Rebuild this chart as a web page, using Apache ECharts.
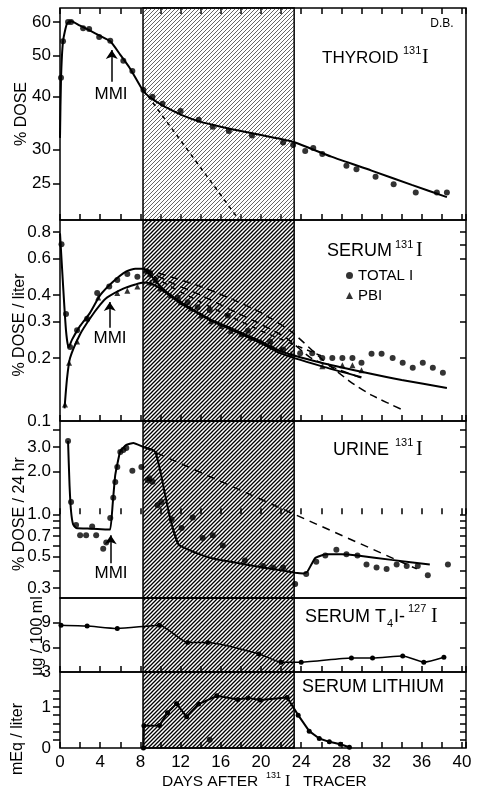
<!DOCTYPE html>
<html>
<head>
<meta charset="utf-8">
<script src="https://cdn.jsdelivr.net/npm/echarts@6/dist/echarts.min.js"></script>
<style>html,body{margin:0;background:#fff}#chart{width:478px;height:789px}</style>
</head>
<body>
<div id="chart"></div>
<script>
// ---- data (days after 131I tracer) ----
const thyroidDays = [0.1, 0.3, 0.8, 1.1, 2.3, 2.9, 3.9, 5.0, 6.3, 7.2, 8.3, 9.2, 10.2, 12.0, 13.8, 15.2, 16.8, 19.1, 22.2, 23.2, 24.4, 25.2, 26.1, 28.5, 29.5, 31.4, 33.2, 35.4, 37.5, 38.5];
const thyroidDose = [44.3, 54, 60, 60, 58, 57.7, 55.3, 54.2, 48.6, 46, 41.5, 40, 38.5, 37, 35.3, 34, 33.2, 32.4, 31.2, 30.8, 29.8, 30.3, 29.3, 27.5, 27, 25.9, 24.9, 23.8, 23.8, 23.8];
const thyroidFitDays = [0, 0.1, 0.3, 0.7, 1.1, 2, 3, 4, 5, 6, 7, 8.3, 9, 10, 10.6, 12, 14, 16, 18, 20, 22, 23.4, 27, 31, 35, 38.5];
const thyroidFitDose = [32, 44, 54, 59.5, 60.2, 58.8, 57.2, 55.6, 54, 50.2, 46.5, 41.2, 39.8, 38.4, 37.7, 36.3, 34.9, 34, 33.2, 32.5, 31.8, 31.2, 28.9, 26.8, 24.8, 23.2];
const thyroidDashDays = [8.3, 18.5];
const thyroidDashDose = [41.5, 19.5];

const totalDays = [0.15, 0.6, 1.0, 1.7, 2.7, 3.7, 4.9, 5.7, 6.7, 7.7, 8.6, 9.0, 9.5, 11.7, 12.7, 13.7, 14.9, 16.7, 18.7, 20.9, 22.2, 23.9, 25.1, 26.1, 27.1, 28.1, 29.1, 30.0, 31.0, 32.0, 33.1, 34.1, 35.1, 36.1, 37.1, 38.1];
const totalDose = [0.7, 0.325, 0.226, 0.272, 0.308, 0.41, 0.44, 0.473, 0.505, 0.49, 0.52, 0.5, 0.47, 0.39, 0.37, 0.35, 0.34, 0.32, 0.27, 0.24, 0.22, 0.211, 0.211, 0.2, 0.2, 0.2, 0.2, 0.19, 0.21, 0.21, 0.2, 0.19, 0.18, 0.19, 0.18, 0.17];
const pbiDays = [0.5, 0.9, 1.7, 2.7, 3.8, 5.7, 6.7, 7.7, 9, 10, 11, 12, 13, 14, 15, 16, 17, 18, 19, 20, 21, 22, 23, 26.1, 28.1, 29.1, 30.0];
const pbiDose = [0.12, 0.19, 0.24, 0.31, 0.39, 0.41, 0.42, 0.44, 0.46, 0.43, 0.4, 0.37, 0.345, 0.32, 0.3, 0.285, 0.27, 0.26, 0.25, 0.24, 0.23, 0.22, 0.21, 0.183, 0.185, 0.185, 0.175];
const totalFitDays = [0, 0.3, 0.6, 0.85, 1.2, 2, 3, 4, 5.3, 6.6, 7.5, 8.3, 9, 10, 11, 12, 13.6, 15, 17, 20, 22, 26, 30, 34, 38.5];
const totalFitDose = [0.79, 0.45, 0.27, 0.225, 0.245, 0.285, 0.33, 0.4, 0.465, 0.52, 0.535, 0.535, 0.5, 0.44, 0.4, 0.37, 0.333, 0.305, 0.278, 0.24, 0.215, 0.19, 0.172, 0.157, 0.144];
const pbiFitDays = [0.45, 0.7, 1, 2, 3, 4, 4.7, 6.3, 7.5, 8.3, 9, 10, 11, 12, 13.6, 15, 17, 20, 22, 26, 30];
const pbiFitDose = [0.115, 0.16, 0.2, 0.26, 0.31, 0.36, 0.39, 0.43, 0.45, 0.46, 0.455, 0.43, 0.395, 0.365, 0.33, 0.302, 0.274, 0.236, 0.21, 0.183, 0.162];
const serumDashADays = [8.5, 11, 14, 17, 20, 23, 26.2, 28.9, 31, 34.1];
const serumDashADose = [0.53, 0.49, 0.44, 0.385, 0.33, 0.268, 0.195, 0.154, 0.133, 0.113];
const serumDashBDays = [8.5, 11, 14, 17, 20, 22.5, 25, 27.5, 30.1];
const serumDashBDose = [0.53, 0.46, 0.4, 0.34, 0.29, 0.25, 0.2, 0.178, 0.16];
const serumDashCDays = [8.5, 11, 14, 17, 20, 23, 26];
const serumDashCDose = [0.52, 0.44, 0.37, 0.315, 0.27, 0.235, 0.205];

const urineDays = [0.8, 1.1, 1.6, 2.0, 2.6, 3.2, 3.6, 4.3, 4.6, 5.0, 5.3, 5.5, 5.7, 6.0, 6.3, 6.6, 7.2, 8.1, 8.7, 8.9, 9.2, 9.7, 10.1, 11.1, 12.1, 13.2, 14.2, 15.2, 16.2, 18.4, 20.2, 21.2, 22.2, 23.4, 24.5, 25.5, 26.4, 27.5, 28.5, 29.6, 30.5, 31.5, 32.5, 33.5, 34.5, 35.6, 36.6, 38.6];
const urineDose = [3.3, 1.22, 0.84, 0.71, 0.71, 0.82, 0.71, 0.57, 0.63, 0.94, 1.31, 1.69, 2.16, 2.76, 2.85, 2.95, 2.03, 2.16, 1.75, 1.8, 1.7, 1.16, 1.22, 0.92, 0.8, 0.95, 0.68, 0.71, 0.6, 0.47, 0.43, 0.42, 0.42, 0.32, 0.377, 0.46, 0.51, 0.56, 0.52, 0.51, 0.44, 0.42, 0.41, 0.44, 0.43, 0.43, 0.37, 0.44];
const urineFitDays = [0.8, 0.95, 1.1, 1.3, 1.6, 3, 4.5, 5.0, 5.25, 5.5, 6.0, 6.6, 7.3, 8.3, 9.0, 9.5, 10.0, 10.3, 11, 11.8, 13.6, 15, 17, 20.2, 23.4, 24.2, 24.6, 25.4, 26.5, 28, 29.6, 33, 36.8];
const urineFitDose = [3.3, 1.6, 1.05, 0.85, 0.8, 0.79, 0.78, 0.78, 1.2, 1.9, 2.8, 3.1, 3.2, 3.0, 2.9, 2.75, 2.0, 1.56, 0.91, 0.61, 0.53, 0.49, 0.46, 0.42, 0.385, 0.38, 0.39, 0.49, 0.52, 0.52, 0.51, 0.475, 0.44];
const urineDashDays = [8.3, 35.5];
const urineDashDose = [3.0, 0.41];

const t4Days = [0.1, 2.7, 5.7, 9.9, 12.7, 14.7, 19.8, 22, 24, 29, 31.1, 34.1, 36.2, 38.2];
const t4Value = [8.7, 8.6, 8.3, 8.7, 6.6, 6.6, 5.2, 4.2, 4.2, 4.7, 4.7, 4.95, 4.2, 4.8];

const lithiumDays = [8.3, 8.35, 9.9, 10.7, 11.6, 12.6, 13.8, 15.6, 17.7, 18.7, 19.9, 22.6, 23.7, 24.8, 25.8, 26.8, 27.9, 28.8];
const lithiumValue = [0, 0.54, 0.55, 0.86, 1.08, 0.76, 1.07, 1.27, 1.18, 1.22, 1.17, 1.23, 0.8, 0.41, 0.23, 0.15, 0.09, 0.02];
const lithiumExtraDays = [14.9];
const lithiumExtraValue = [0.2];

const dayTicks = [0, 4, 8, 12, 16, 20, 24, 28, 32, 36, 40];
const thyroidLabels = [60, 50, 40, 30, 25];
const serumLabels = [0.8, 0.6, 0.4, 0.3, 0.2, 0.1];
const serumLeftTicks = [0.8, 0.6, 0.4, 0.3, 0.2];
const serumRightTicks = [0.8, 0.7, 0.6, 0.4, 0.3, 0.2];
const urineLabels = [3, 2, 1, 0.7, 0.5, 0.3];
const urineTicks = [4, 3, 2, 1, 0.9, 0.8, 0.7, 0.6, 0.5, 0.4, 0.3];
const t4Labels = [9, 6, 3];
const t4Ticks = [9, 6];
const lithiumLabels = [1, 0];
const lithiumTicks = [0.2, 0.4, 0.6, 0.8, 1, 1.2, 1.4];

const shadeFrom = 8.26, shadeTo = 23.3;

// ---- helpers ----
const FONT = 'Liberation Sans';
const lg = v => Math.log10(v);
const pairs = (xs, ys, f) => xs.map((x, i) => [x, f ? f(ys[i]) : ys[i]]);

function hatch(color, width) {
  const c = document.createElement('canvas');
  c.width = 4; c.height = 4;
  const g = c.getContext('2d');
  g.strokeStyle = color;
  g.lineWidth = width;
  g.beginPath();
  g.moveTo(-1, 5); g.lineTo(5, -1);
  g.moveTo(-1, 1); g.lineTo(1, -1);
  g.moveTo(3, 5); g.lineTo(5, 3);
  g.stroke();
  return { image: c, repeat: 'repeat' };
}

const panels = [
  { top: 8, height: 212, min: lg(20.5), max: lg(64.7) },
  { top: 220, height: 201, min: lg(0.1), max: lg(0.915) },
  { top: 421, height: 177, min: lg(0.255), max: lg(4.58) },
  { top: 598, height: 74, min: 3, max: 12 },
  { top: 672, height: 76, min: 0, max: 1.85 }
];

const grids = panels.map(p => ({
  left: 60, width: 406, top: p.top, height: p.height,
  show: true, borderColor: '#000', borderWidth: 1.5, backgroundColor: 'transparent'
}));

const tickStyle = { color: '#000', width: 1.5 };

const xAxes = panels.map((p, i) => ({
  type: 'value', gridIndex: i, min: 0, max: 40.4, interval: 2, position: 'bottom',
  axisLine: { show: false }, splitLine: { show: false },
  axisTick: { show: true, inside: true, length: 6, lineStyle: tickStyle },
  axisLabel: {
    show: i === 4, color: '#000', fontSize: 17, fontFamily: FONT, margin: 6,
    formatter: v => dayTicks.indexOf(v) >= 0 ? String(v) : ''
  }
}));
xAxes.push({
  type: 'value', gridIndex: 0, min: 0, max: 40.4, interval: 2, position: 'top',
  axisLine: { show: false }, splitLine: { show: false },
  axisTick: { show: true, inside: true, length: 6, lineStyle: tickStyle },
  axisLabel: { show: false }
});

function yPair(i, labels, lt, rt, isLog, fmt) {
  const t = v => isLog ? lg(v) : v;
  const base = { type: 'value', gridIndex: i, min: panels[i].min, max: panels[i].max,
    axisLine: { show: false }, splitLine: { show: false } };
  return [
    Object.assign({}, base, {
      position: 'left',
      axisTick: { show: true, inside: false, length: 7, customValues: lt.map(t), lineStyle: tickStyle },
      axisLabel: { show: true, customValues: labels.map(t), formatter: fmt,
        color: '#000', fontSize: 17, fontFamily: FONT, margin: 9 }
    }),
    Object.assign({}, base, {
      position: 'right',
      axisTick: { show: true, inside: true, length: 6, customValues: rt.map(t), lineStyle: tickStyle },
      axisLabel: { show: false }
    })
  ];
}

const yAxes = [].concat(
  yPair(0, thyroidLabels, thyroidLabels, thyroidLabels, true, v => String(Math.round(Math.pow(10, v)))),
  yPair(1, serumLabels, serumLeftTicks, serumRightTicks, true, v => Math.pow(10, v).toFixed(1)),
  yPair(2, urineLabels, urineTicks, urineTicks, true, v => Math.pow(10, v).toFixed(1)),
  yPair(3, t4Labels, t4Ticks, t4Ticks, false, v => String(v)),
  yPair(4, lithiumLabels, lithiumTicks, lithiumTicks, false, v => String(v))
);

function dots(i, data, symbol, size, name) {
  return { type: 'scatter', name, xAxisIndex: i, yAxisIndex: 2 * i, data, symbol, symbolSize: size,
    itemStyle: { color: '#000' }, z: 4, silent: true };
}
function curve(i, data, width, dash, smooth) {
  return { type: 'line', xAxisIndex: i, yAxisIndex: 2 * i, data, showSymbol: false, smooth,
    clip: true, silent: true, z: 3,
    lineStyle: { color: '#000', width, type: dash || 'solid' } };
}
function mmiArrow(i, day, from, to) {
  return { type: 'line', xAxisIndex: i, yAxisIndex: 2 * i, data: [], silent: true, z: 3,
    markLine: { silent: true, symbol: ['none', 'arrow'], symbolSize: 9, animation: false,
      lineStyle: { color: '#000', width: 1.5, type: 'solid' }, label: { show: false },
      data: [[{ coord: [day, lg(from)] }, { coord: [day, lg(to)] }]] } };
}

const hatchDark = hatch('#000', 1.3);
const hatchLight = hatch('#666', 1);

const series = [];
panels.forEach((p, i) => {
  series.push({ type: 'line', xAxisIndex: i, yAxisIndex: 2 * i, data: [], silent: true, z: 1,
    markArea: { silent: true, itemStyle: { color: i === 0 ? hatchLight : hatchDark, borderColor: '#000', borderWidth: 1.5 },
      data: [[{ xAxis: shadeFrom }, { xAxis: shadeTo }]] } });
});

// thyroid
series.push(curve(0, pairs(thyroidFitDays, thyroidFitDose, lg), 2, 'solid', 0.2));
series.push(curve(0, pairs(thyroidDashDays, thyroidDashDose, lg), 1.5, [4, 4], false));
series.push(dots(0, pairs(thyroidDays, thyroidDose, lg), 'circle', 6));
series.push(mmiArrow(0, 5.15, 43.4, 51.5));
// serum
series.push(curve(1, pairs(totalFitDays, totalFitDose, lg), 2, 'solid', 0.2));
series.push(curve(1, pairs(pbiFitDays, pbiFitDose, lg), 2, 'solid', 0.2));
series.push(curve(1, pairs(serumDashADays, serumDashADose, lg), 1.5, [8, 5], 0.2));
series.push(curve(1, pairs(serumDashBDays, serumDashBDose, lg), 1.5, [8, 5], 0.2));
series.push(curve(1, pairs(serumDashCDays, serumDashCDose, lg), 1.5, [5, 5], 0.2));
series.push(dots(1, pairs(totalDays, totalDose, lg), 'circle', 6, 'TOTAL I'));
series.push(dots(1, pairs(pbiDays, pbiDose, lg), 'triangle', 6, 'PBI'));
series.push(mmiArrow(1, 4.95, 0.279, 0.371));
// urine
series.push(curve(2, pairs(urineFitDays, urineFitDose, lg), 2, 'solid', 0.12));
series.push(curve(2, pairs(urineDashDays, urineDashDose, lg), 1.5, [8, 6], false));
series.push(dots(2, pairs(urineDays, urineDose, lg), 'circle', 6));
series.push(mmiArrow(2, 5.05, 0.45, 0.71));
// serum T4
series.push({ type: 'line', xAxisIndex: 3, yAxisIndex: 6, data: pairs(t4Days, t4Value), smooth: 0.2,
  symbol: 'circle', symbolSize: 5, showSymbol: true, silent: true, z: 3,
  itemStyle: { color: '#000' }, lineStyle: { color: '#000', width: 1.5 } });
// lithium
series.push({ type: 'line', xAxisIndex: 4, yAxisIndex: 8, data: pairs(lithiumDays, lithiumValue),
  symbol: 'circle', symbolSize: 5, showSymbol: true, silent: true, z: 3,
  itemStyle: { color: '#000' }, lineStyle: { color: '#000', width: 2 } });
series.push(dots(4, pairs(lithiumExtraDays, lithiumExtraValue), 'circle', 6));

function txt(x, y, text, size, o) {
  o = o || {};
  const align = o.align || 'left';
  return { type: 'text', x, y, rotation: o.rot || 0, silent: true, z: 10,
    style: { text, fill: '#000', fontSize: size, fontFamily: o.serif ? 'Liberation Serif' : FONT,
      align, verticalAlign: 'middle', textAlign: align, textVerticalAlign: 'middle' } };
}
const R = Math.PI / 2;
const graphics = [
  txt(442, 24, 'D.B.', 12, { align: 'center' }),
  txt(322, 58, 'THYROID', 17), txt(403, 51, '131', 11), txt(422, 58, 'I', 20, { serif: true }),
  txt(111, 94, 'MMI', 17, { align: 'center' }),
  txt(327, 251, 'SERUM', 18), txt(395, 245, '131', 11), txt(416, 251, 'I', 20, { serif: true }),
  txt(110, 338, 'MMI', 17, { align: 'center' }),
  txt(333, 450, 'URINE', 18), txt(395, 443, '131', 11), txt(416, 450, 'I', 20, { serif: true }),
  txt(111, 573, 'MMI', 17, { align: 'center' }),
  txt(305, 617, 'SERUM T', 18), txt(387, 624, '4', 11), txt(394, 617, 'I-', 18),
  txt(408, 609, '127', 11), txt(431, 617, 'I', 20, { serif: true }),
  txt(302, 687, 'SERUM LITHIUM', 18),
  txt(162, 782, 'DAYS AFTER', 15.5), txt(266, 776, '131', 9), txt(285, 782, 'I', 16, { serif: true }),
  txt(303, 782, 'TRACER', 15.5),
  txt(22, 114, '% DOSE', 16, { align: 'center', rot: R }),
  txt(20, 325, '% DOSE / liter', 16, { align: 'center', rot: R }),
  txt(20, 514, '% DOSE / 24 hr', 16, { align: 'center', rot: R }),
  txt(38, 636, 'μg / 100 ml', 16, { align: 'center', rot: R }),
  txt(18, 739, 'mEq / liter', 16, { align: 'center', rot: R })
];

const chart = echarts.init(document.getElementById('chart'));
chart.setOption({
  animation: false,
  backgroundColor: '#fff',
  grid: grids,
  xAxis: xAxes,
  yAxis: yAxes,
  legend: {
    data: [{ name: 'TOTAL I', icon: 'circle' }, { name: 'PBI', icon: 'triangle' }],
    orient: 'vertical', left: 341, top: 263, itemGap: 5, itemWidth: 7, itemHeight: 7,
    selectedMode: false, textStyle: { color: '#000', fontSize: 15, fontFamily: FONT }
  },
  series,
  graphic: graphics
});
window.onresize = function () {
  chart.resize();
};
</script>
</body>
</html>
